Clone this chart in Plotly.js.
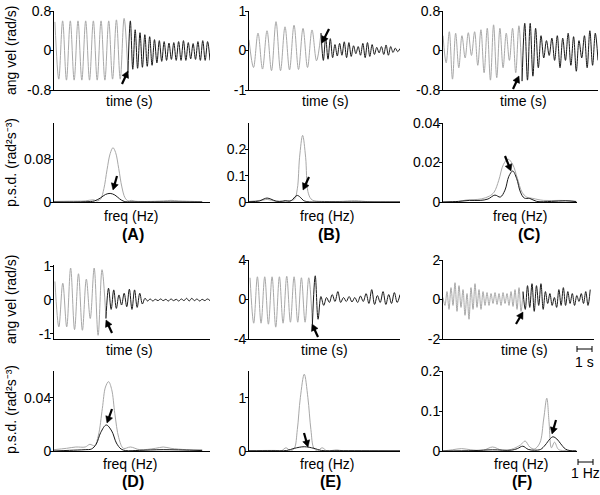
<!DOCTYPE html>
<html><head><meta charset="utf-8">
<script src="https://cdn.plot.ly/plotly-3.0.1.min.js"></script>
<style>html,body{margin:0;padding:0;background:#fff}#chart{width:600px;height:495px}</style>
</head><body><div id="chart"></div>
<script>
// ---------- time series (successive peak / trough values, angular velocity rad/s) ----------
const A_grayT = [0.06, 4.74];
const A_gray = [0.58,-0.58,0.6,-0.6,0.6,-0.6,0.6,-0.6,0.6,-0.6,0.6,-0.6,0.6,-0.6,0.6,-0.58,0.62,-0.58,0.65,-0.45];
const A_blackT = [4.74, 10];
const A_black = [-0.45,0.6,-0.38,0.42,-0.36,0.36,-0.34,0.32,-0.32,0.28,-0.3,0.22,-0.25,0.2,-0.22,0.18,-0.2,0.15,-0.18,0.16,-0.2,0.18,-0.2,0.2,-0.2,0.16,-0.17,0.14,-0.18,0.18,-0.2,0.2,-0.2,0.18,-0.2];

const B_grayT = [0.0, 4.77];
const B_gray = [0.27,-0.43,0.44,-0.47,0.5,-0.51,0.73,-0.51,0.6,-0.49,0.64,-0.48,0.56,-0.43,0.52,-0.26,0.44];
const B_blackT = [4.77, 10];
const B_black = [0.44,-0.25,0.32,-0.22,0.3,-0.18,0.15,-0.14,0.18,-0.12,0.22,-0.18,0.2,-0.15,0.12,-0.08,0.1,-0.12,0.18,-0.18,0.2,-0.15,0.15,-0.1,0.08,-0.06,0.1,-0.1,0.14,-0.12,0.1,-0.05,0.06,-0.03,0.05];

const C_grayT = [0.0, 5.1];
const C_gray = [0.3,-0.25,0.38,-0.58,0.35,-0.35,0.3,-0.15,0.36,-0.1,0.38,-0.3,0.42,-0.45,0.45,-0.6,0.52,-0.55,0.45,-0.35,0.35,-0.2,0.45,-0.45,0.5,-0.62];
const C_blackT = [5.1, 10];
const C_black = [-0.62,0.55,-0.6,0.55,-0.52,0.45,-0.35,0.3,-0.15,0.2,-0.1,0.25,-0.2,0.3,-0.35,0.25,-0.2,0.35,-0.3,0.28,-0.42,0.2,-0.15,0.3,-0.35,0.4,-0.3,0.35,-0.2];

const D_grayT = [0.06, 3.33];
const D_gray = [0.55,-0.8,0.5,-0.8,0.95,-0.88,0.78,-0.9,0.62,-0.55,0.95,-1.05,0.9,-0.55];
const D_blackT = [3.33, 10];
const D_black = [-0.55,0.35,-0.28,0.3,-0.25,0.15,-0.15,0.2,-0.2,0.32,-0.28,0.3,-0.22,0.2,-0.12,0.05,-0.03,0.03,-0.03,0.02,-0.02,0.03,-0.02,0.02,-0.03,0.03,-0.02,0.02,-0.03,0.03,-0.02,0.05,-0.03,0.05,-0.02,0.03,-0.03,0.02,-0.02,0.03,-0.02];

const E_grayT = [0.07, 4.2];
const E_gray = [2.2,-2.4,2.3,-2.4,2.3,-2.5,2.3,-2.8,2.3,-2.4,2.35,-2.3,2.3,-2.3,2.2,-2.3,2.2,-2.5];
const E_blackT = [4.2, 10];
const E_black = [-2.5,2.4,-2.0,0.3,-0.6,0.2,-0.3,0.5,-0.2,0.8,-0.3,0.2,-0.2,0.3,-0.25,0.2,-0.3,0.35,-0.2,0.6,-0.4,1.0,-0.5,0.4,-0.3,0.8,-0.5,0.5,-0.4,0.7,-0.3,0.5];

const F_grayT = [0.0, 5.3];
const F_gray = [0.1,-0.3,0.4,-0.5,0.6,-0.3,0.85,-0.6,0.7,-0.4,0.5,-0.8,0.3,-1.0,0.6,-0.5,0.8,-0.4,0.5,-0.5,0.4,-0.3,0.35,-0.3,0.3,-0.2,0.35,-0.25,0.3,-0.3,0.35,-0.2,0.3,-0.3,0.4,-0.35,0.5,-0.5,0.6,-0.6,0.4];
const F_blackT = [5.3, 9.75];
const F_black = [0.4,-0.5,0.7,-0.4,0.8,-0.6,0.7,-0.3,0.8,-0.5,0.4,-0.2,0.3,-0.3,0.1,-0.4,0.5,-0.3,0.6,-0.3,0.4,-0.2,0.3,-0.3,0.2,-0.1,0.3,-0.2,0.4,-0.3,0.5];

// ---------- power spectral densities (freq Hz, psd rad^2 s^-3) ----------
const A_psdGrayF = [0,1,2,2.5,2.8,3.0,3.2,3.4,3.6,3.78,3.95,4.15,4.35,4.55,4.75,4.95,5.2,6,7,7.5,8,9,9.5];
const A_psdGray  = [0.001,0.0015,0.002,0.004,0.002,0.006,0.025,0.06,0.09,0.101,0.092,0.062,0.028,0.008,0.002,0.003,0.0015,0.001,0.002,0.003,0.002,0.001,0.0005];
const A_psdBlackF = [0,2.0,2.6,3.0,3.3,3.6,3.9,4.2,4.5,5,7,9.5];
const A_psdBlack  = [0,0.0005,0.002,0.008,0.014,0.016,0.013,0.006,0.001,0.0003,0.0002,0];

const B_psdGrayF = [0,1,1.2,1.5,2,2.5,3.0,3.2,3.35,3.55,3.75,3.9,4.1,4.3,5,6,7,7.5,8,10];
const B_psdGray  = [0.002,0.008,0.01,0.006,0.002,0.004,0.01,0.05,0.17,0.253,0.17,0.04,0.012,0.005,0.002,0.002,0.005,0.003,0.001,0.001];
const B_psdBlackF = [0,0.7,1.0,1.2,1.45,1.8,2.2,2.4,2.7,2.9,3.05,3.2,3.4,3.6,3.9,5,10];
const B_psdBlack  = [0.001,0.004,0.012,0.015,0.011,0.003,0.003,0.005,0.003,0.01,0.02,0.025,0.018,0.006,0.001,0.0005,0];

const C_psdGrayF = [0,1.0,1.5,2.0,2.5,3.0,3.3,3.6,3.9,4.2,4.5,4.8,5.1,5.4,5.8,6.5,7.5,8.3,8.6];
const C_psdGray  = [0,0.0003,0.001,0.0012,0.0016,0.003,0.005,0.011,0.019,0.0217,0.019,0.012,0.005,0.0025,0.0018,0.0008,0.0008,0.0006,0.0003];
const C_psdBlackF = [0,1,1.7,2.4,2.9,3.35,3.7,4.0,4.25,4.5,4.75,5.0,5.25,5.6,6.05,7,7.9,8.6];
const C_psdBlack  = [0,0.0003,0.0008,0.0008,0.0015,0.0035,0.0025,0.006,0.013,0.0157,0.012,0.005,0.002,0.0018,0.0003,0.0003,0.0006,0.0002];

const D_psdGrayF = [0,0.8,1.4,2.0,2.3,2.6,2.85,3.1,3.3,3.5,3.7,3.9,4.15,4.45,4.9,5.5,6.5,7.0,7.5,8.5,9.5];
const D_psdGray  = [0.001,0.002,0.003,0.003,0.005,0.004,0.012,0.032,0.048,0.052,0.046,0.028,0.01,0.002,0.003,0.001,0.002,0.003,0.002,0.001,0.001];
const D_psdBlackF = [0,1,2,2.4,2.7,3.0,3.35,3.7,4.0,4.3,4.6,5.5,7,9.5];
const D_psdBlack  = [0,0.0005,0.001,0.0015,0.005,0.014,0.0195,0.015,0.006,0.0015,0.0003,0.0005,0.001,0.0003];

const E_psdGrayF = [0,1,1.8,2.15,2.45,2.75,3.0,3.2,3.4,3.66,3.9,4.1,4.3,4.55,4.84,5.15,5.5,5.8,6.2,7,10];
const E_psdGray  = [0.005,0.01,0.01,0.005,0.06,0.005,0.05,0.4,1.0,1.44,1.0,0.4,0.05,0.005,0.06,0.005,0.01,0.02,0.005,0.005,0.003];
const E_psdBlackF = [0,1.5,2.5,3.0,3.66,4.3,4.8,6,10];
const E_psdBlack  = [0.003,0.005,0.01,0.05,0.08,0.05,0.01,0.005,0.002];

const F_psdGrayF = [0,0.6,1.2,1.8,2.6,3.2,3.8,4.4,5.0,5.3,5.6,5.9,6.25,6.5,6.7,6.85,7.0,7.2,7.45,7.8,8.6];
const F_psdGray  = [0,0.003,0.006,0.003,0.002,0.01,0.002,0.004,0.015,0.025,0.01,0.005,0.02,0.08,0.132,0.07,0.008,0.022,0.004,0.001,0.0005];
const F_psdBlackF = [0,2,3.2,4.4,4.8,5.15,5.5,5.9,6.3,6.6,6.9,7.1,7.35,7.6,7.9,8.2,8.6];
const F_psdBlack  = [0,0.001,0.003,0.002,0.006,0.012,0.004,0.002,0.004,0.015,0.03,0.0355,0.03,0.018,0.005,0.001,0.0003];

// ---------- tick labels ----------
const ticks = {
  1:[[-0.8,0,0.8],['-0.8','0','0.8']],
  2:[[-1,0,1],['-1','0','1']],
  3:[[-0.8,0,0.8],['-0.8','0','0.8']],
  4:[[0,0.08],['0','0.08']],
  5:[[0,0.1,0.2],['0','0.1','0.2']],
  6:[[0,0.02,0.04],['0','0.02','0.04']],
  7:[[-1,0,1],['-1','0','1']],
  8:[[-4,0,4],['-4','0','4']],
  9:[[-2,0,2],['-2','0','2']],
  10:[[0,0.04],['0','0.04']],
  11:[[0,1],['0','1']],
  12:[[0,0.1,0.2],['0','0.1','0.2']]
};
const panelLabels = ['(A)','(B)','(C)','(D)','(E)','(F)'];

// ---------- build ----------
const GRAY = '#a8a8a8', BLACK = '#1a1a1a';
const FONT = 'Liberation Sans, Arial, Helvetica, sans-serif';
const W = 600, H = 495;
function seg(vals, span){ const n = vals.length; return {x: vals.map((v,i)=>span[0] + i*(span[1]-span[0])/(n-1)), y: vals}; }
function line(x, y, color, ax){ return {type:'scatter', mode:'lines', x:x, y:y, xaxis:'x'+ax, yaxis:'y'+ax,
  line:{color:color, width:1, shape:'spline', smoothing:1}, hoverinfo:'skip', showlegend:false}; }

const traces = [];
function timePanel(ax, g, gT, b, bT){ const G = seg(g,gT), B = seg(b,bT);
  traces.push(line(G.x, G.y, GRAY, ax)); traces.push(line(B.x, B.y, BLACK, ax)); }
function psdPanel(ax, gf, g, bf, b){ traces.push(line(gf, g, GRAY, ax)); traces.push(line(bf, b, BLACK, ax)); }

timePanel(1, A_gray, A_grayT, A_black, A_blackT);
timePanel(2, B_gray, B_grayT, B_black, B_blackT);
timePanel(3, C_gray, C_grayT, C_black, C_blackT);
psdPanel(4, A_psdGrayF, A_psdGray, A_psdBlackF, A_psdBlack);
psdPanel(5, B_psdGrayF, B_psdGray, B_psdBlackF, B_psdBlack);
psdPanel(6, C_psdGrayF, C_psdGray, C_psdBlackF, C_psdBlack);
timePanel(7, D_gray, D_grayT, D_black, D_blackT);
timePanel(8, E_gray, E_grayT, E_black, E_blackT);
timePanel(9, F_gray, F_grayT, F_black, F_blackT);
psdPanel(10, D_psdGrayF, D_psdGray, D_psdBlackF, D_psdBlack);
psdPanel(11, E_psdGrayF, E_psdGray, E_psdBlackF, E_psdBlack);
psdPanel(12, F_psdGrayF, F_psdGray, F_psdBlackF, F_psdBlack);

// layout geometry (pixels)
const geom = {
  1:{x:[54,210], y:[11,90],  xr:[0,10],   yr:[-0.8,0.8]},
  2:{x:[249,400],y:[11,90],  xr:[0,10],   yr:[-1,1]},
  3:{x:[443,598],y:[11,90],  xr:[0,10],   yr:[-0.8,0.8]},
  4:{x:[54,210], y:[123,202],xr:[0,10],   yr:[0,0.147]},
  5:{x:[249,400],y:[123,202],xr:[0,10],   yr:[0,0.3]},
  6:{x:[443,577],y:[123,202],xr:[0,8.65], yr:[0,0.04]},
  7:{x:[54,210], y:[265,339],xr:[0,10],   yr:[-1.16,1.04]},
  8:{x:[249,400],y:[260,339],xr:[0,10],   yr:[-4,4]},
  9:{x:[443,594],y:[260,339],xr:[0,10],   yr:[-2,2]},
  10:{x:[54,210],y:[371,451],xr:[0,10],   yr:[0,0.06]},
  11:{x:[249,400],y:[371,451],xr:[0,10],  yr:[0,1.5]},
  12:{x:[443,577],y:[371,451],xr:[0,8.65],yr:[0,0.2]}
};
const layout = {width:W, height:H, margin:{l:0,r:0,t:0,b:0}, paper_bgcolor:'#fff', plot_bgcolor:'#fff',
  showlegend:false, font:{family:FONT, size:13, color:'#000'}, annotations:[], shapes:[]};
for (let i=1;i<=12;i++){
  const g = geom[i];
  layout['xaxis'+i] = {domain:[g.x[0]/W, g.x[1]/W], range:g.xr, anchor:'y'+i, showgrid:false, zeroline:false,
    showline:true, linecolor:'#000', linewidth:1, ticks:'', showticklabels:false, fixedrange:true};
  layout['yaxis'+i] = {domain:[1-g.y[1]/H, 1-g.y[0]/H], range:g.yr, anchor:'x'+i, showgrid:false, zeroline:false,
    showline:true, linecolor:'#000', linewidth:1, ticks:'outside', ticklen:3, tickwidth:1, tickcolor:'#000',
    ticklabelstandoff:-4,
    tickvals:ticks[i][0], ticktext:ticks[i][1], tickfont:{family:FONT, size:14, color:'#000'}, fixedrange:true};
}
function txt(text, px, py, size, opts){
  layout.annotations.push(Object.assign({text:text, xref:'paper', yref:'paper', x:px/W, y:1-py/H,
    xanchor:'center', yanchor:'middle', showarrow:false, font:{family:FONT, size:size, color:'#000'}}, opts||{}));
}
// axis titles
[[129,101],[325,101],[523,101],[129,350],[324,350],[524,350]].forEach(p=>txt('time (s)', p[0], p[1], 14));
[[131,216],[327,216],[520,216],[130,464],[327,464],[521,464]].forEach(p=>txt('freq (Hz)', p[0], p[1], 14));
txt('ang vel (rad/s)', 11, 51, 14, {textangle:-90});
txt('ang vel (rad/s)', 11, 300, 14, {textangle:-90});
txt('p.s.d. (rad²s⁻³)', 11, 163, 14, {textangle:-90});
txt('p.s.d. (rad²s⁻³)', 11, 410, 14, {textangle:-90});
// panel letters
[[133,235],[329,235],[529,235],[133,481],[330,481],[522,481]].forEach((p,k)=>txt(panelLabels[k], p[0], p[1], 16,
  {font:{family:FONT, size:16, color:'#000', weight:'bold'}}));
// pointer arrows drawn as shapes: [tailX, tailY, headX, headY] in pixels
const arrows = [[122,84,128,71],[329,29,322,43],[513,89,519,76],[117,176,113,190],[309,177,303,190],[505,156,511,171],
  [112,333,106,320],[318,337,312,324],[516,324,523,312],[112,409,107,423],[304,433,308,447],[556,420,552,434]];
function P(x,y){ return (x/W).toFixed(5)+','+(1-y/H).toFixed(5); }
arrows.forEach(a=>{
  const dx=a[2]-a[0], dy=a[3]-a[1], L=Math.hypot(dx,dy), ux=dx/L, uy=dy/L, nx=-uy, ny=ux;
  const hl=6.5, hw=3.6, bx=a[2]-ux*hl, by=a[3]-uy*hl;
  layout.shapes.push({type:'line', xref:'paper', yref:'paper', x0:a[0]/W, y0:1-a[1]/H, x1:(bx+ux)/W, y1:1-(by+uy)/H,
    line:{color:'#000', width:2.2}});
  layout.shapes.push({type:'path', xref:'paper', yref:'paper',
    path:'M'+P(a[2],a[3])+' L'+P(bx+nx*hw,by+ny*hw)+' L'+P(bx-nx*hw,by-ny*hw)+' Z',
    fillcolor:'#000', line:{color:'#000', width:0.5}});
});
// scale bars
function seg2(x0,y0,x1,y1){ layout.shapes.push({type:'line', xref:'paper', yref:'paper', x0:x0/W, y0:1-y0/H, x1:x1/W, y1:1-y1/H, line:{color:'#000', width:1}}); }
function scalebar(x0,x1,y){ seg2(x0,y,x1,y); seg2(x0,y-3,x0,y+3); seg2(x1,y-3,x1,y+3); }
scalebar(577,592,349); txt('1 s', 584, 362, 14);
scalebar(578,593,462); txt('1 Hz', 585, 473, 14);

Plotly.newPlot('chart', traces, layout, {staticPlot:true, displayModeBar:false});
</script></body></html>
